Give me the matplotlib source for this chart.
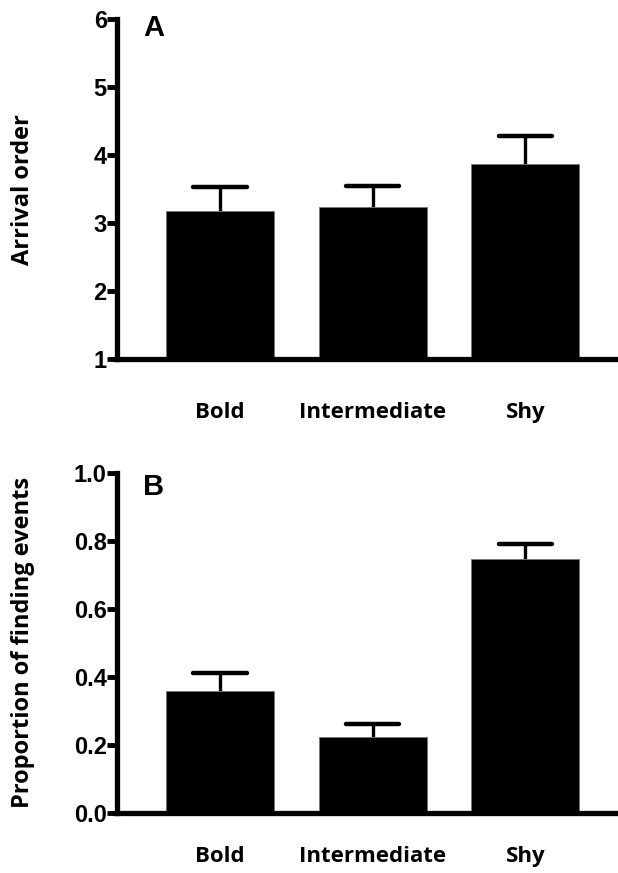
import numpy as np
import matplotlib
matplotlib.use("Agg")
import matplotlib.pyplot as plt

# group labels and values
groups = ["Bold", "Intermediate", "Shy"]
arrival_mean = [3.18, 3.24, 3.87]
arrival_sem = [0.36, 0.31, 0.42]
finding_mean = [0.359, 0.222, 0.746]
finding_sem = [0.053, 0.039, 0.046]

arrival_ticks = [1, 2, 3, 4, 5, 6]
finding_ticks = [0.0, 0.2, 0.4, 0.6, 0.8, 1.0]

label_font = "Open Sans"
tick_font = "Liberation Sans"

fig = plt.figure(figsize=(6.18, 8.73), dpi=100)

def panel(rect, means, sems, ticks, fmt, letter, letter_y, ylabel, xpad):
	ax = fig.add_axes(rect)
	x = np.arange(len(groups))
	means = np.array(means)
	sems = np.array(sems)
	base = ticks[0]
	ax.bar(x, means - base, width=0.707, bottom=base,
		color="black", edgecolor="#777777", linewidth=0.6, zorder=2)
	# upper error bar only
	ax.vlines(x, means, means + sems, color="black", linewidth=2.4, zorder=1)
	ax.hlines(means + sems, x - 0.175, x + 0.175, color="black", linewidth=3.2,
		capstyle="round", zorder=1)
	ax.set_xlim(-0.678, 2.606)
	ax.set_ylim(ticks[0], ticks[-1])
	ax.set_yticks(ticks)
	ax.set_yticklabels([fmt.format(t) for t in ticks], fontfamily=tick_font,
		fontweight="bold", fontsize=17)
	ax.set_xticks(x)
	ax.set_xticklabels(groups, fontfamily=label_font, fontweight="bold", fontsize=16)
	ax.tick_params(axis="x", length=0, pad=xpad)
	ax.tick_params(axis="y", length=7, width=3.5, pad=0)
	for s in ["top", "right"]:
		ax.spines[s].set_visible(False)
	for s in ["left", "bottom"]:
		ax.spines[s].set_linewidth(3.8)
	ax.set_facecolor("none")
	fig.text(154 / 618, 1 - letter_y / 873, letter, fontfamily=tick_font,
		fontweight="bold", fontsize=21, ha="center", va="center")
	cy = (rect[1] + rect[1] + rect[3]) / 2
	fig.text(23 / 618, cy, ylabel, fontfamily=label_font, fontweight="bold",
		fontsize=17, rotation=90, ha="center", va="center")
	return ax

left = 116.5 / 618
width = 1 - left
top_ax = panel([left, 1 - 359 / 873, width, (359 - 19.5) / 873], arrival_mean,
	arrival_sem, arrival_ticks, "{:d}", "A", 28, "Arrival order", 31)
bot_ax = panel([left, 1 - 812.7 / 873, width, (812.7 - 473) / 873], finding_mean,
	finding_sem, finding_ticks, "{:.1f}", "B", 487, "Proportion of finding events", 24)

fig.savefig("out.png", dpi=100)
